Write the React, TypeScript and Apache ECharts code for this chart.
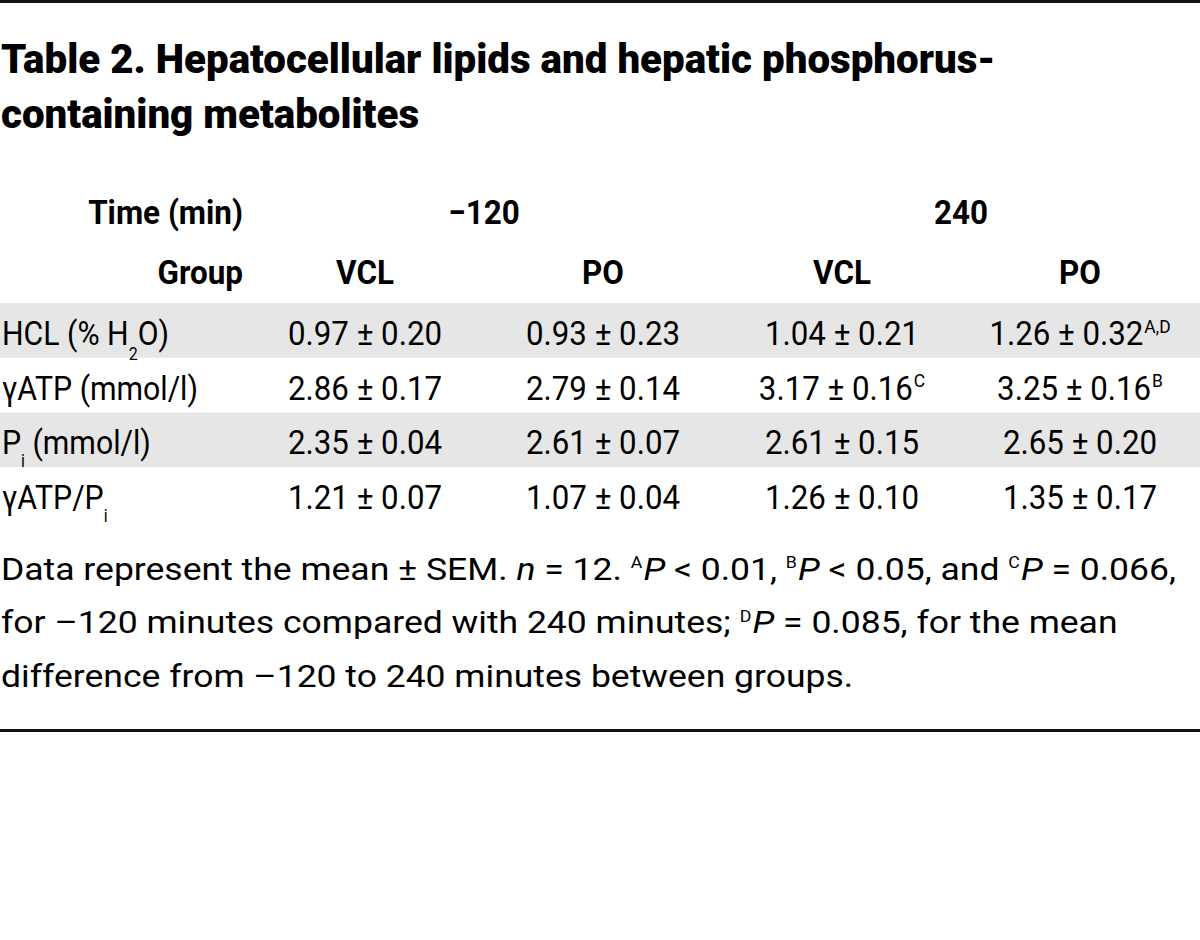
import React, { useEffect, useRef } from "react";
import * as echarts from "echarts";

// ---------- data ----------
const titleLines = [
  "Table 2. Hepatocellular lipids and hepatic phosphorus-",
  "containing metabolites",
];
const timeHeader = "Time (min)";
const groupHeader = "Group";
const timePoints = ["\u2212120", "240"];
const groups = ["VCL", "PO", "VCL", "PO"];
const rowLabels = [
  "HCL (% H{sub|2}O)",
  "\u03b3ATP (mmol/l)",
  "P{subi|i} (mmol/l)",
  "\u03b3ATP/P{subi|i}",
];
const means = [
  [0.97, 0.93, 1.04, 1.26],
  [2.86, 2.79, 3.17, 3.25],
  [2.35, 2.61, 2.61, 2.65],
  [1.21, 1.07, 1.26, 1.35],
];
const sems = [
  [0.2, 0.23, 0.21, 0.32],
  [0.17, 0.14, 0.16, 0.16],
  [0.04, 0.07, 0.15, 0.2],
  [0.07, 0.04, 0.1, 0.17],
];
const marks = [
  ["", "", "", "A,D"],
  ["", "", "C", "B"],
  ["", "", "", ""],
  ["", "", "", ""],
];
const footLines = [
  "Data represent the mean \u00b1 SEM. {i|n} = 12. {sup|A}{i|P} < 0.01, {sup|B}{i|P} < 0.05, and {sup|C}{i|P} = 0.066,",
  "for \u2013120 minutes compared with 240 minutes; {sup|D}{i|P} = 0.085, for the mean",
  "difference from \u2013120 to 240 minutes between groups.",
];

// ---------- style ----------
const FONT = "Roboto, 'Liberation Sans', sans-serif";
const INK = "#000000";
const BAND = "#e6e6e6";

function measure(text: string, size: number, weight: number) {
  const c = document.createElement("canvas").getContext("2d")!;
  c.font = `${weight} ${size}px ${FONT}`;
  return c.measureText(text).width;
}

function txt(
  x: number,
  y: number,
  text: string,
  size: number,
  weight: number,
  scale: number,
  align: string,
  rich?: any
) {
  return {
    type: "text",
    x,
    y,
    scaleX: scale,
    silent: true,
    style: {
      text,
      fontSize: size,
      fontFamily: FONT,
      fontWeight: weight,
      fill: INK,
      align,
      verticalAlign: "middle",
      textAlign: align,
      textVerticalAlign: "middle",
      rich,
    },
  };
}

export default function App() {
  const ref = useRef<HTMLDivElement>(null);
  useEffect(() => {
    if (!ref.current) return;
    const chart = echarts.init(ref.current, null, {
      renderer: "svg",
      width: 1200,
      height: 940,
    });

    const TITLE = 40;
    const HEAD = 34;
    const BODY = 34;
    const FOOT = 32;
    const TW = 900;
    const HW = 700;
    const titleScale = 995 / measure(titleLines[0], TITLE, TW);
    const headScale = 155 / measure(timeHeader, HEAD, HW);
    const bodyScale = 154 / measure("0.93 \u00b1 0.23", BODY, 400);
    const labelScale = 196 / measure("\u03b3ATP (mmol/l)", BODY, 400);
    const footScale = 852 / measure(footLines[2], FOOT, 400);

    const colX = [365, 603, 842, 1080];
    const timeX = [(colX[0] + colX[1]) / 2, (colX[2] + colX[3]) / 2];
    const headRight = 243;
    const rowTop0 = 303;
    const rowH = 54.75;

    const bodyRich = {
      sub: { fontSize: 18, fontFamily: FONT, fontWeight: 400, fill: INK, padding: [40, 0, 0, 0] },
      subi: { fontSize: 18, fontFamily: FONT, fontWeight: 400, fill: INK, padding: [36, 0, 0, 0] },
      sup: { fontSize: 19, fontFamily: FONT, fontWeight: 400, fill: INK, padding: [0, 0, 15, 1] },
    };
    const footRich = {
      i: { fontSize: FOOT, fontFamily: FONT, fontWeight: 400, fontStyle: "italic", fill: INK },
      sup: { fontSize: 16, fontFamily: FONT, fontWeight: 400, fill: INK, padding: [0, 1, 13, 0] },
    };

    const els: any[] = [];
    // rules
    els.push({ type: "rect", shape: { x: 0, y: 0, width: 1200, height: 3 }, style: { fill: "#111" }, silent: true });
    els.push({ type: "rect", shape: { x: 0, y: 729, width: 1200, height: 3 }, style: { fill: "#111" }, silent: true });
    // title
    titleLines.forEach((t, i) => {
      els.push(txt(1, 60 + i * 54.5, t, TITLE, TW, titleScale, "left"));
    });
    // headers
    els.push(txt(headRight, 213, timeHeader, HEAD, HW, headScale, "right"));
    els.push(txt(headRight, 273, groupHeader, HEAD, HW, headScale, "right"));
    timePoints.forEach((t, i) => els.push(txt(timeX[i], 213, t, HEAD, HW, headScale, "center")));
    groups.forEach((g, i) => els.push(txt(colX[i], 273, g, HEAD, HW, headScale, "center")));
    // rows
    rowLabels.forEach((lab, r) => {
      const top = rowTop0 + r * rowH;
      if (r % 2 === 0) {
        els.push({ type: "rect", shape: { x: 0, y: top, width: 1200, height: rowH }, style: { fill: BAND }, silent: true, z: -1 });
      }
      const cy = top + rowH / 2 + 3;
      els.push(txt(2, cy, lab, BODY, 400, labelScale, "left", bodyRich));
      means[r].forEach((m, c) => {
        const mk = marks[r][c];
        const s = `${m.toFixed(2)} \u00b1 ${sems[r][c].toFixed(2)}` + (mk ? `{sup|${mk}}` : "");
        els.push(txt(colX[c], cy, s, BODY, 400, bodyScale, "center", bodyRich));
      });
    });
    // footnote
    footLines.forEach((t, i) => {
      els.push(txt(1, 569 + i * 53.5, t, FOOT, 400, footScale, "left", footRich));
    });

    chart.setOption({
      animation: false,
      backgroundColor: "#ffffff",
      graphic: { elements: els },
    });
    return () => chart.dispose();
  }, []);

  return (
    <div
      ref={ref}
      style={{ position: "fixed", left: 0, top: 0, width: 1200, height: 940, background: "#fff" }}
    />
  );
}
